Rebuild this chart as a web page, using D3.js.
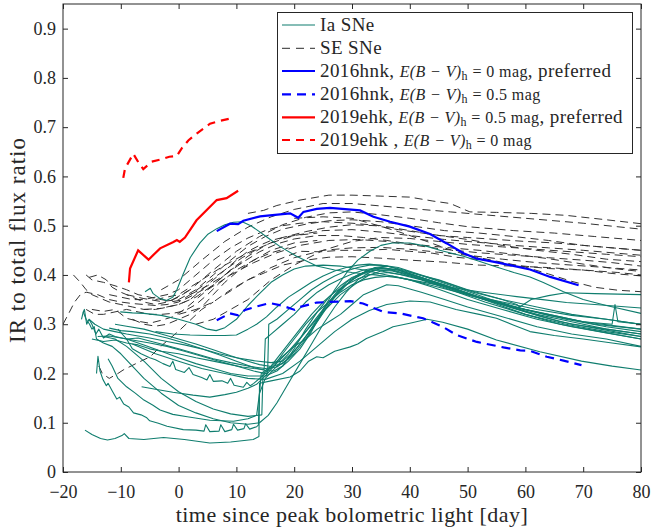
<!DOCTYPE html>
<html><head><meta charset="utf-8">
<script src="https://cdn.jsdelivr.net/npm/d3@7"></script>
<style>
body{margin:0;background:#fff}
svg{display:block}
text{font-family:"Liberation Serif","DejaVu Serif",serif;fill:#262626}
</style></head>
<body><svg id="c" width="653" height="529"></svg>
<script>
// ---------- data ----------
const xTicks = [-20,-10,0,10,20,30,40,50,60,70,80];
const yTicks = [0,0.1,0.2,0.3,0.4,0.5,0.6,0.7,0.8,0.9];
const yTickLabels = ["0","0.1","0.2","0.3","0.4","0.5","0.6","0.7","0.8","0.9"];

const iaSNe = [
 [[-16.2,.085],[-15,.076],[-13.5,.068],[-12.3,.065],[-11,.068],[-9.8,.074],[-9.4,.078],[-8.6,.068],[-6,.066],[-2.6,.070],[1,.066],[5.4,.059],[9,.061],[12.9,.066],[13.9,.072],[14,.18],[16,.185],[19.3,.193],[21,.205],[22.5,.225],[23.9,.234],[25,.232],[27,.245],[29.7,.254],[31,.26],[32.5,.271],[35.4,.285],[37.1,.295],[40,.302],[43,.31],[45.7,.304],[50,.29],[55,.268],[62.5,.244],[69.7,.225],[75,.215],[80,.207]],
 [[-14.2,.20],[-13.95,.235],[-13.6,.205],[-13.1,.188],[-12.5,.175],[-12.2,.18],[-11.5,.165],[-10.7,.148],[-10.2,.152],[-9.5,.138],[-8.6,.132],[-7.8,.12],[-6.5,.116],[-5.5,.11],[-5,.104],[-3.5,.099],[-2,.093],[0.8,.086],[3,.085],[4.4,.083],[4.7,.096],[5.4,.082],[7,.083],[7.3,.096],[8,.082],[9.2,.086],[9.5,.097],[10.2,.085],[11.3,.088],[11.6,.098],[12.3,.087],[13.5,.092],[13.8,.095],[14,.16],[14.3,.2],[16,.215],[18,.235],[20,.255],[22,.27],[24,.29],[26,.305],[28,.32],[30,.34],[32,.36],[34,.37],[36,.38],[38,.378],[42,.365],[46,.35],[50,.335],[56,.315],[62,.295],[68,.28],[74,.27],[80,.255]],
 [[-6.4,.173],[-4,.168],[-1,.162],[2.5,.156],[5.4,.152],[8,.157],[10,.162],[12,.17],[13.5,.178],[15,.195],[16.5,.215],[18,.24],[20,.27],[22,.3],[24,.325],[26,.345],[28,.365],[30,.38],[32,.39],[34,.395],[37,.398],[40,.39],[44,.375],[50,.35],[56,.33],[62,.31],[68,.295],[74,.282],[80,.27]],
 [[-12.2,.23],[-11.5,.215],[-10.5,.19],[-9,.173],[-7.5,.16],[-6,.146],[-4.5,.136],[-3.2,.126],[-1,.117],[1.5,.112],[5.4,.105],[9.5,.103],[12,.108],[13.5,.115],[14,.16],[15,.19],[17,.215],[19,.24],[21,.27],[23,.3],[25,.33],[27,.36],[29,.385],[31,.4],[33,.41],[35,.415],[38,.41],[42,.395],[47,.375],[53,.35],[60,.325],[66,.305],[73,.29],[80,.275]],
 [[-16.5,.325],[-16,.31],[-15.4,.3],[-15,.29],[-14.6,.295],[-14.2,.27],[-13,.262],[-11.5,.255],[-10,.24],[-8,.215],[-6,.19],[-3,.16],[0,.135],[3,.12],[6,.108],[9,.1],[12,.097],[14,.1],[15.5,.115],[17,.14],[19,.18],[21,.22],[23,.26],[25,.3],[27,.335],[29,.365],[31,.39],[33,.405],[35,.413],[38,.41],[42,.395],[48,.37],[54,.345],[60,.32],[66,.3],[73,.285],[80,.27]],
 [[-13,.275],[-11,.27],[-9,.255],[-6,.225],[-3,.19],[0,.163],[3,.143],[6,.128],[9,.118],[12,.113],[14.4,.116],[14.6,.2],[16.5,.215],[19,.245],[22,.285],[25,.325],[28,.36],[31,.385],[33,.4],[35,.408],[38,.402],[42,.39],[47,.37],[53,.345],[60,.32],[67,.3],[74,.285],[80,.275]],
 [[-10.5,.29],[-9,.27],[-8,.25],[-6.5,.24],[-5,.232],[-4,.228],[-2.7,.22],[-1.5,.214],[-1,.225],[-0.5,.208],[1,.202],[1.8,.212],[2.5,.198],[4,.192],[4.9,.187],[5.4,.198],[6,.184],[7.5,.185],[8.5,.18],[9,.19],[9.6,.176],[11.2,.172],[11.8,.182],[12.4,.175],[13,.18],[15,.2],[17,.23],[19,.26],[21,.29],[23,.32],[25,.345],[27,.365],[29,.38],[31,.392],[33,.4],[36,.405],[40,.398],[45,.38],[50,.36],[56,.34],[62,.318],[68,.3],[74,.29],[80,.28]],
 [[-16.8,.31],[-16.5,.325],[-16.3,.33],[-15.9,.3],[-15.5,.31],[-15,.3],[-14.3,.28],[-13.8,.29],[-13,.272],[-12,.28],[-11,.275],[-9,.27],[-7,.272],[-5,.266],[-3,.26],[0,.25],[3,.24],[6,.23],[9,.222],[12,.215],[15,.21],[17,.213],[19,.23],[21,.26],[23,.29],[25,.325],[27,.355],[29,.38],[31,.398],[33,.41],[35,.415],[38,.41],[42,.395],[47,.375],[53,.35],[60,.33],[67,.31],[74,.295],[80,.285]],
 [[-15.5,.31],[-14.5,.3],[-13,.29],[-11,.285],[-9,.28],[-7,.276],[-5,.272],[-2,.265],[1,.258],[4,.25],[7,.24],[10,.232],[13,.226],[16,.222],[18,.225],[20,.245],[22,.275],[24,.31],[26,.345],[28,.37],[30,.39],[32,.405],[34,.415],[36,.418],[39,.41],[43,.395],[48,.375],[54,.35],[60,.33],[66,.315],[72,.3],[80,.29]],
 [[-12,.292],[-10,.287],[-8,.285],[-5,.28],[-2,.272],[1,.262],[4,.25],[7,.238],[10,.225],[13,.212],[15,.206],[16.5,.205],[18,.215],[20,.25],[22,.29],[24,.325],[26,.355],[28,.378],[30,.395],[32,.405],[34,.41],[37,.408],[41,.395],[46,.378],[52,.355],[58,.335],[64,.32],[70,.305],[80,.29]],
 [[-14,.275],[-12,.276],[-10,.272],[-8,.268],[-5,.262],[-2,.255],[1,.245],[4,.235],[7,.225],[10,.215],[13,.205],[15,.2],[15.4,.2],[15.6,.3],[17,.31],[19,.33],[21,.35],[23,.37],[25,.385],[27,.398],[29,.408],[31,.415],[33,.42],[35,.42],[38,.415],[42,.4],[46,.385],[51,.365],[56,.35],[58.5,.34],[59,.335],[61,.35],[64,.358],[67,.364],[72,.362],[80,.36]],
 [[-11,.3],[-9,.296],[-6,.29],[-3,.28],[0,.27],[3,.26],[6,.248],[9,.236],[12,.225],[14,.218],[16,.214],[18,.22],[20,.24],[22,.27],[24,.305],[26,.34],[28,.37],[30,.39],[32,.403],[34,.41],[37,.41],[41,.398],[46,.38],[52,.355],[58,.335],[64,.318],[70,.305],[75,.3],[75.5,.34],[76,.305],[80,.3]],
 [[-10.1,.325],[-8,.323],[-6,.322],[-3,.318],[0,.31],[3,.3],[5,.29],[6.5,.287],[8,.293],[10,.31],[12,.338],[14,.362],[16,.385],[18,.4],[20,.412],[22,.418],[25,.42],[28,.418],[32,.41],[36,.4],[40,.39],[45,.375],[50,.36],[56,.345],[62,.33],[68,.318],[74,.31],[80,.3]],
 [[-4,.285],[-1,.28],[2,.278],[5,.277],[8,.277],[10,.278],[12,.29],[13.5,.3],[15.2,.315],[17,.335],[19,.355],[21,.37],[23,.385],[25,.398],[27,.408],[29,.415],[31,.42],[33,.422],[36,.418],[40,.405],[45,.39],[50,.37],[56,.35],[62,.335],[68,.32],[74,.31],[80,.3]],
 [[-5.8,.366],[-4.9,.373],[-4.4,.362],[-3.2,.352],[-2.1,.348],[-1,.355],[-0.3,.37],[0.8,.402],[2,.435],[3.7,.465],[5,.482],[6.6,.494],[8,.502],[9.5,.507],[11,.508],[12.5,.5],[14.1,.487],[15.5,.475],[17.5,.458],[20.4,.438],[23.9,.418],[27,.41],[30,.405],[34,.4],[38.3,.394],[42,.386],[47,.375],[52,.366],[58.5,.356],[63,.35],[67.1,.344],[72,.34],[80,.333]],
 [[-9,.27],[-6,.258],[-3,.245],[0,.232],[3,.22],[6,.21],[9,.2],[12,.195],[15,.195],[17,.205],[19,.225],[21,.25],[23,.285],[25,.33],[27,.37],[29.1,.405],[31,.43],[33.1,.448],[35,.46],[37,.465],[40,.465],[43,.458],[45.2,.45],[49.3,.438],[52,.428],[55,.416],[58,.405],[60.8,.396],[63,.385],[66.6,.366],[70,.35],[74,.338],[80,.322]],
 [[-8,.26],[-4,.24],[0,.225],[4,.21],[8,.2],[12,.19],[15,.188],[18,.2],[21,.225],[24,.255],[27,.285],[30,.31],[33,.328],[36,.34],[40,.347],[43.5,.345],[48,.33],[52,.32],[55,.312],[58,.298],[60.8,.285],[65,.277],[70,.27],[75,.262],[80,.254]],
 [[-15,.27],[-13,.265],[-11,.268],[-9,.262],[-7,.258],[-5,.25],[-3,.245],[0,.24],[3,.232],[6,.225],[9,.218],[11,.213],[13,.21],[14.8,.208],[15,.27],[16,.28],[18,.3],[20,.32],[22,.345],[24,.365],[26,.38],[28,.392],[30,.402],[32,.41],[34,.414],[36,.412],[40,.4],[44,.385],[50,.36],[56,.34],[62,.32],[68,.305],[74,.29],[80,.28]]
];

const seSNe = [
 [[12,.525],[14.7,.531],[17,.541],[21,.552],[26,.562],[30,.562],[35,.56],[40,.558],[44,.55],[47,.545],[50.4,.528],[55,.527],[61,.525],[67,.521],[74,.512],[80,.504]],
 [[-3,.37],[0,.39],[4,.43],[8,.468],[12,.497],[16,.518],[20,.533],[25,.545],[30,.545],[35,.54],[40,.535],[47,.528],[55,.52],[62,.513],[70,.505],[80,.493]],
 [[-1,.35],[2,.37],[6,.41],[10,.448],[14,.478],[18,.502],[22,.517],[26,.526],[30,.528],[35,.522],[40,.515],[45,.506],[50,.498],[58,.49],[65,.485],[72,.478],[80,.47]],
 [[-9,.36],[-6,.352],[-3,.346],[0,.35],[3,.37],[6,.4],[9,.43],[12,.458],[15,.478],[18,.493],[22,.503],[26,.51],[30,.512],[35,.508],[40,.5],[46,.49],[52,.485],[58,.478],[64,.47],[70,.46],[80,.45]],
 [[-6,.33],[-3,.332],[0,.34],[3,.355],[6,.38],[9,.41],[12,.438],[15,.46],[18,.476],[22,.488],[26,.497],[30,.502],[34,.5],[38,.492],[44,.482],[50,.472],[56,.46],[62,.45],[68,.442],[74,.432],[80,.427]],
 [[2,.36],[5,.378],[8,.4],[11,.425],[14,.447],[17,.463],[20,.473],[24,.48],[28,.48],[32,.476],[36,.47],[40,.463],[46,.456],[52,.45],[58,.442],[64,.433],[70,.422],[76,.412],[80,.407]],
 [[17,.43],[21,.448],[24.5,.447],[28,.45],[32,.45],[36,.452],[40,.448],[44,.444],[48,.436],[53,.43],[58,.42],[64,.413],[70,.41],[76,.405],[80,.40]],
 [[20,.515],[25,.518],[30,.515],[34,.502],[38,.488],[42,.472],[46,.455],[50,.44],[55,.428],[60,.416],[64,.402],[68,.387],[72,.375],[76,.369],[80,.366]],
 [[-4,.35],[0,.36],[4,.39],[8,.42],[12,.445],[16,.465],[20,.48],[25,.49],[30,.492],[35,.487],[40,.48],[46,.472],[52,.466],[58,.46],[64,.455],[70,.45],[80,.44]],
 [[5,.37],[9,.4],[13,.425],[17,.445],[21,.46],[26,.47],[31,.472],[36,.468],[41,.46],[46,.452],[52,.445],[58,.44],[64,.435],[70,.43],[75,.425],[80,.418]],
 [[8,.36],[12,.39],[16,.415],[20,.435],[25,.45],[30,.455],[35,.456],[40,.452],[45,.446],[50,.44],[56,.432],[62,.425],[68,.42],[74,.415],[80,.41]],
 [[0,.32],[3,.33],[6,.345],[9,.37],[12,.39],[15,.405],[18,.42],[22,.43],[26,.436],[30,.437],[35,.434],[40,.43],[46,.426],[52,.42],[58,.418],[64,.415],[70,.41],[75,.403],[80,.398]],
 [[-16,.40],[-15,.39],[-13,.385],[-11,.378],[-9,.37],[-7,.36],[-5,.355],[-3,.35],[-1,.346],[1,.35],[3,.362],[5,.375]],
 [[-18.2,.40],[-17,.385],[-16,.37],[-15,.36],[-14,.355],[-12,.345],[-10,.34],[-8,.335],[-6,.33],[-4,.33],[-2,.335],[0,.34],[2,.35],[4,.37],[6,.39],[8,.41],[10,.43],[12,.448],[14,.46],[16,.47],[18,.476],[20,.48],[24,.485]],
 [[-20,.30],[-19,.322],[-18,.345],[-17,.36],[-16,.365],[-14,.36],[-12,.35],[-10,.345],[-8,.342],[-6,.34],[-4,.338],[-2,.34],[0,.345],[2,.36],[5,.385],[8,.41],[11,.435],[14,.455]],
 [[-16,.33],[-14.5,.32],[-13,.32],[-11,.325],[-9,.33],[-7,.325],[-5,.32],[-3,.32],[-1,.322],[1,.327],[3,.34],[5,.36],[7,.383],[10,.41],[13,.43],[16,.445],[19,.455]],
 [[-13.8,.215],[-13.2,.2],[-12,.19],[-10.5,.2],[-9.6,.207],[-6.7,.224],[-4.9,.234],[-3.2,.254],[-1.5,.271],[0.2,.288],[2,.308],[4,.33],[6,.345]],
 [[-15,.33],[-13,.326],[-11,.33],[-9,.312],[-7,.306],[-5,.302],[-3,.308],[-1,.315],[1,.33],[3,.35],[5,.37],[7,.39],[9,.41],[11,.425]],
 [[-12,.36],[-10,.355],[-8,.35],[-6,.35],[-4,.355],[-2,.36],[0,.37],[2,.39],[4,.41],[6,.43],[9,.455],[12,.475],[15,.49],[18,.5],[21,.505],[25,.508],[30,.505],[35,.5],[40,.49],[45,.48],[50,.476],[55,.472],[60,.468],[65,.465],[70,.46],[75,.455],[80,.45]],
 [[-15.5,.395],[-14,.40],[-12.5,.39],[-11.5,.375],[-10,.365],[-8,.355],[-6,.345],[-4,.34],[-2,.345],[0,.355],[2,.37]],
 [[3,.3],[6,.31],[9,.33],[12,.35],[16,.39],[20,.42],[25,.45],[30,.468],[35,.476],[40,.474],[45,.468],[50,.462],[56,.457],[62,.452],[68,.447],[74,.442],[80,.437]],
 [[-8,.31],[-6,.3],[-4,.296],[-2,.3],[0,.31],[2,.32],[4,.335],[6,.36],[8,.385],[10,.405],[13,.43],[16,.45],[20,.465],[24,.47]]
];

const hnk0 = [[6.6,.489],[8.9,.504],[10.3,.503],[11.2,.51],[14.1,.519],[15.8,.521],[19.3,.525],[20.7,.516],[21.6,.528],[23.9,.534],[26.2,.536],[31.4,.531],[33.7,.518],[36.6,.508],[40,.498],[43.5,.483],[46.4,.464],[49.3,.444],[51.6,.433],[54.4,.427],[57.3,.42],[60.8,.411],[64.3,.396],[69.2,.379]];
const hnk05 = [[6.6,.308],[8.9,.322],[10.3,.318],[11.5,.329],[13.2,.335],[15.8,.343],[18.1,.337],[20.1,.329],[21,.335],[23.9,.344],[29.7,.347],[31.9,.342],[35.4,.325],[38.3,.322],[42.3,.312],[44.1,.303],[45.8,.294],[48.1,.278],[51.6,.264],[56.2,.253],[59.1,.247],[60.8,.246],[63.7,.234],[66.6,.226],[69.7,.217]];
const ehk05 = [[-8.6,.385],[-8.4,.413],[-7,.45],[-5.2,.431],[-3.2,.454],[-0.9,.467],[-0.3,.471],[0.2,.467],[1.1,.476],[3.1,.511],[6.6,.552],[8.3,.556],[10.3,.571]];
const ehk0 = [[-9.57,.597],[-9.27,.616],[-7.84,.646],[-6.97,.629],[-6.11,.615],[-4.65,.63],[-2.92,.635],[-1.61,.64],[-0.33,.641],[0.54,.657],[1.68,.673],[3.13,.687],[5.43,.707],[6.87,.712],[9.46,.719]];

const legendLabels = ["Ia SNe","SE SNe","2016hnk","2016hnk","2019ehk","2019ehk"];

// ---------- drawing ----------
const svg = d3.select("#c");
const x = d3.scaleLinear().domain([-20,80]).range([63,641]);
const y = d3.scaleLinear().domain([0,0.95]).range([472,4]);
const line = d3.line().x(d=>x(d[0])).y(d=>y(d[1]));

svg.append("defs").append("clipPath").attr("id","clip")
  .append("rect").attr("x",63).attr("y",4).attr("width",578).attr("height",468);
const plot = svg.append("g").attr("clip-path","url(#clip)");

const green = "#0f7d6e";
const greyDash = "#333";

plot.selectAll(".se").data(seSNe).enter().append("path")
  .attr("d",line).attr("fill","none").attr("stroke",greyDash)
  .attr("stroke-width",1).attr("stroke-dasharray","8,5");
plot.selectAll(".ia").data(iaSNe).enter().append("path")
  .attr("d",line).attr("fill","none").attr("stroke",green)
  .attr("stroke-width",1.1).attr("stroke-linejoin","round");

plot.append("path").datum(hnk05).attr("d",line).attr("fill","none")
  .attr("stroke","#0000ff").attr("stroke-width",2.2).attr("stroke-dasharray","9,6");
plot.append("path").datum(hnk0).attr("d",line).attr("fill","none")
  .attr("stroke","#0000ff").attr("stroke-width",2.2);
plot.append("path").datum(ehk0).attr("d",line).attr("fill","none")
  .attr("stroke","#ff0000").attr("stroke-width",2.2).attr("stroke-dasharray","8,6");
plot.append("path").datum(ehk05).attr("d",line).attr("fill","none")
  .attr("stroke","#ff0000").attr("stroke-width",2.2);

// axes
const axCol = "#262626";
const gx = svg.append("g").attr("transform","translate(0,472)")
  .call(d3.axisBottom(x).tickValues(xTicks).tickSizeInner(-5).tickSizeOuter(0).tickPadding(13));
const gy = svg.append("g").attr("transform","translate(63,0)")
  .call(d3.axisLeft(y).tickValues(yTicks).tickFormat((d,i)=>yTickLabels[i]).tickSizeInner(-5).tickSizeOuter(0).tickPadding(7));
const gt = svg.append("g").attr("transform","translate(0,4)")
  .call(d3.axisTop(x).tickValues(xTicks).tickSizeInner(-5).tickSizeOuter(0).tickFormat(""));
const gr = svg.append("g").attr("transform","translate(641,0)")
  .call(d3.axisRight(y).tickValues(yTicks).tickSizeInner(-5).tickSizeOuter(0).tickFormat(""));
[gx,gy,gt,gr].forEach(g=>{
  g.select(".domain").remove();
  g.selectAll("line").attr("stroke",axCol);
  g.selectAll("text").attr("fill",axCol).style("font-size","18px").style("font-family","'Liberation Serif',serif");
});
svg.append("rect").attr("x",63).attr("y",4).attr("width",578).attr("height",468)
  .attr("fill","none").attr("stroke",axCol).attr("stroke-width",1);

svg.append("text").attr("x",352).attr("y",522).attr("text-anchor","middle")
  .style("font-size","22px").style("letter-spacing","0.45px").text("time since peak bolometric light [day]");
svg.append("text").attr("transform","translate(25,240) rotate(-90)").attr("text-anchor","middle")
  .style("font-size","23px").style("letter-spacing","1px").text("IR to total flux ratio");

// legend
const lg = svg.append("g");
lg.append("rect").attr("x",277.5).attr("y",12.5).attr("width",355).attr("height",141)
  .attr("fill","#fff").attr("stroke",axCol).attr("stroke-width",1);
const rows = [25,48.3,71,94.3,117.3,140];
const styles = [
  {c:green,w:1.2,d:null},{c:"#555",w:1.2,d:"8,6"},
  {c:"#0000ff",w:2.2,d:null},{c:"#0000ff",w:2.2,d:"9,6"},
  {c:"#ff0000",w:2.2,d:null},{c:"#ff0000",w:2.2,d:"8,6"}];
const maths = [null,null,
  {v:"0", tail:", preferred", comma:", "},
  {v:"0.5", tail:"", comma:", "},
  {v:"0.5", tail:", preferred", comma:", "},
  {v:"0", tail:"", comma:" , "}];
rows.forEach((ry,i)=>{
  const s = styles[i];
  lg.append("line").attr("x1",282).attr("x2",315).attr("y1",ry).attr("y2",ry)
    .attr("stroke",s.c).attr("stroke-width",s.w).attr("stroke-dasharray",s.d);
  const t = lg.append("text").attr("x",320).attr("y",ry+6).style("font-size","19px").style("letter-spacing","0.4px");
  t.append("tspan").text(legendLabels[i]);
  const m = maths[i];
  if(m){
    t.append("tspan").text(m.comma);
    t.append("tspan").style("font-style","italic").style("font-size","16px").text("E(B − V)");
    t.append("tspan").style("font-size","12px").attr("dy",3).text("h");
    t.append("tspan").style("font-size","16px").attr("dy",-3).text(" = "+m.v+" mag");
    if(m.tail) t.append("tspan").text(m.tail);
  }
});
</script></body></html>
